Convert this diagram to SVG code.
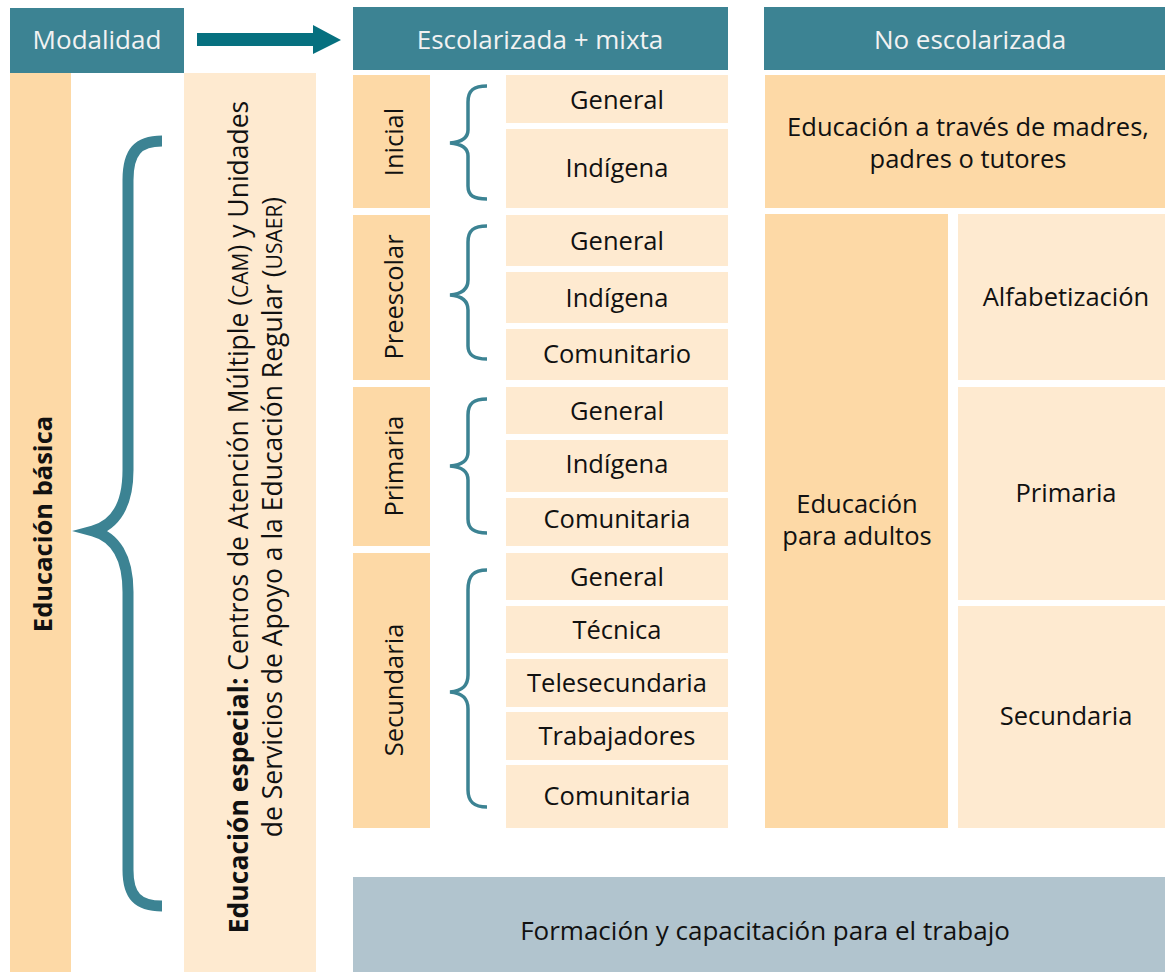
<svg xmlns="http://www.w3.org/2000/svg" width="1165" height="972" viewBox="0 0 1165 972">
  <style>
    .hdr { fill: #3c8393; }
    .dark { fill: #fdd9a6; }
    .light { fill: #feead0; }
    .grey { fill: #b1c4ce; }
    text { font-family: "Open Sans", "Liberation Sans", sans-serif; font-size: 25.5px; fill: #111; text-anchor: middle; }
    .ht { fill: #f2f2f2; font-size: 26px; }
    .b { font-weight: bold; }
    .esp { font-size: 26.5px; }
    .sc { font-size: 21px; }
    .basic { font-size: 25.5px; font-weight: bold; }
    .form { font-size: 26px; }
    .brace { fill: none; stroke: #3c8393; stroke-linecap: butt; }
  </style>
  <rect width="1165" height="972" fill="#ffffff"/>

  <!-- header row -->
  <g id="modalidad">
    <rect class="hdr" x="10" y="8" width="174" height="65"/>
    <text class="ht" x="97" y="49">Modalidad</text>
  </g>
  <g id="escolarizada">
    <rect class="hdr" x="353" y="7" width="375" height="63"/>
    <text class="ht" x="540" y="49">Escolarizada + mixta</text>
  </g>
  <g id="no-escolarizada">
    <rect class="hdr" x="764" y="7" width="401" height="63"/>
    <text class="ht" x="970" y="49">No escolarizada</text>
  </g>

  <!-- left columns -->
  <g id="educacion-basica">
    <rect class="dark" x="10" y="73" width="61" height="899"/>
    <text class="basic" transform="translate(52,524) rotate(-90)">Educación básica</text>
  </g>
  <g id="educacion-especial">
    <rect class="light" x="184" y="73" width="132" height="899"/>
    <text class="esp" transform="translate(248,517) rotate(-90)"><tspan class="b">Educación especial:</tspan> Centros de Atención Múltiple (<tspan class="sc">CAM</tspan>) y Unidades</text>
    <text class="esp" transform="translate(282,517) rotate(-90)">de Servicios de Apoyo a la Educación Regular (<tspan class="sc">USAER</tspan>)</text>
  </g>

  <!-- levels -->
  <g id="inicial">
    <rect class="dark" x="353" y="75" width="77" height="133"/>
    <text transform="translate(403,142) rotate(-90)">Inicial</text>
  </g>
  <g id="preescolar">
    <rect class="dark" x="353" y="215" width="77" height="165"/>
    <text transform="translate(403,297) rotate(-90)">Preescolar</text>
  </g>
  <g id="primaria">
    <rect class="dark" x="353" y="387" width="77" height="159"/>
    <text transform="translate(403,466) rotate(-90)">Primaria</text>
  </g>
  <g id="secundaria">
    <rect class="dark" x="353" y="553" width="77" height="275"/>
    <text transform="translate(403,690) rotate(-90)">Secundaria</text>
  </g>

  <!-- services -->
  <g id="inicial-general"><rect class="light" x="506" y="75" width="222" height="48"/><text x="617" y="109">General</text></g>
  <g id="inicial-indigena"><rect class="light" x="506" y="129" width="222" height="79"/><text x="617" y="177">Indígena</text></g>

  <g id="preescolar-general"><rect class="light" x="506" y="215" width="222" height="51"/><text x="617" y="250">General</text></g>
  <g id="preescolar-indigena"><rect class="light" x="506" y="272" width="222" height="51"/><text x="617" y="307">Indígena</text></g>
  <g id="preescolar-comunitario"><rect class="light" x="506" y="329" width="222" height="51"/><text x="617" y="363">Comunitario</text></g>

  <g id="primaria-general"><rect class="light" x="506" y="387" width="222" height="47"/><text x="617" y="420">General</text></g>
  <g id="primaria-indigena"><rect class="light" x="506" y="440" width="222" height="52"/><text x="617" y="473">Indígena</text></g>
  <g id="primaria-comunitaria"><rect class="light" x="506" y="498" width="222" height="48"/><text x="617" y="528">Comunitaria</text></g>

  <g id="secundaria-general"><rect class="light" x="506" y="553" width="222" height="47"/><text x="617" y="586">General</text></g>
  <g id="secundaria-tecnica"><rect class="light" x="506" y="606" width="222" height="47"/><text x="617" y="639">Técnica</text></g>
  <g id="secundaria-telesecundaria"><rect class="light" x="506" y="659" width="222" height="48"/><text x="617" y="692">Telesecundaria</text></g>
  <g id="secundaria-trabajadores"><rect class="light" x="506" y="712" width="222" height="48"/><text x="617" y="745">Trabajadores</text></g>
  <g id="secundaria-comunitaria"><rect class="light" x="506" y="765" width="222" height="63"/><text x="617" y="805">Comunitaria</text></g>

  <!-- non-school modality -->
  <g id="madres-padres">
    <rect class="dark" x="765" y="75" width="400" height="133"/>
    <text x="968" y="136">Educación a través de madres,</text>
    <text x="968" y="168">padres o tutores</text>
  </g>
  <g id="adultos">
    <rect class="dark" x="765" y="214" width="183" height="614"/>
    <text x="857" y="513">Educación</text>
    <text x="857" y="545">para adultos</text>
  </g>
  <g id="alfabetizacion"><rect class="light" x="958" y="214" width="207" height="166"/><text x="1066" y="306">Alfabetización</text></g>
  <g id="adultos-primaria"><rect class="light" x="958" y="387" width="207" height="213"/><text x="1066" y="502">Primaria</text></g>
  <g id="adultos-secundaria"><rect class="light" x="958" y="606" width="207" height="222"/><text x="1066" y="725">Secundaria</text></g>

  <g id="formacion">
    <rect class="grey" x="353" y="877" width="812" height="95"/>
    <text class="form" x="765" y="940">Formación y capacitación para el trabajo</text>
  </g>

  <!-- connectors: arrow and braces -->
  <g id="connectors">
    <path d="M197 33 H313 V25 L341 40 L313 54 V46 H197 Z" fill="#06707f"/>
    <path class="brace" stroke-width="11" d="M162 141 C138 141 128 152 128 180 V470 C128 505 115 525 93 531 C115 537 128 557 128 592 V870 C128 896 138 906 162 906"/>
    <path class="brace" stroke-width="3.5" d="M487 86 C474 86 468 90 468 102 V130 C468 138 462 142 450 143 C462 144 468 148 468 156 V186 C468 196 474 199 487 199"/>
    <path class="brace" stroke-width="3.5" d="M487 226 C474 226 468 230 468 242 V280 C468 289 462 294 450 295 C462 296 468 301 468 310 V346 C468 355 474 359 487 359"/>
    <path class="brace" stroke-width="3.5" d="M487 399 C474 399 468 403 468 415 V452 C468 461 462 465 450 466 C462 467 468 471 468 480 V519 C468 529 474 533 487 533"/>
    <path class="brace" stroke-width="3.5" d="M487 570 C474 570 468 575 468 590 V675 C468 686 462 691 450 692 C462 693 468 698 468 709 V790 C468 802 474 807 487 807"/>
  </g>
</svg>
